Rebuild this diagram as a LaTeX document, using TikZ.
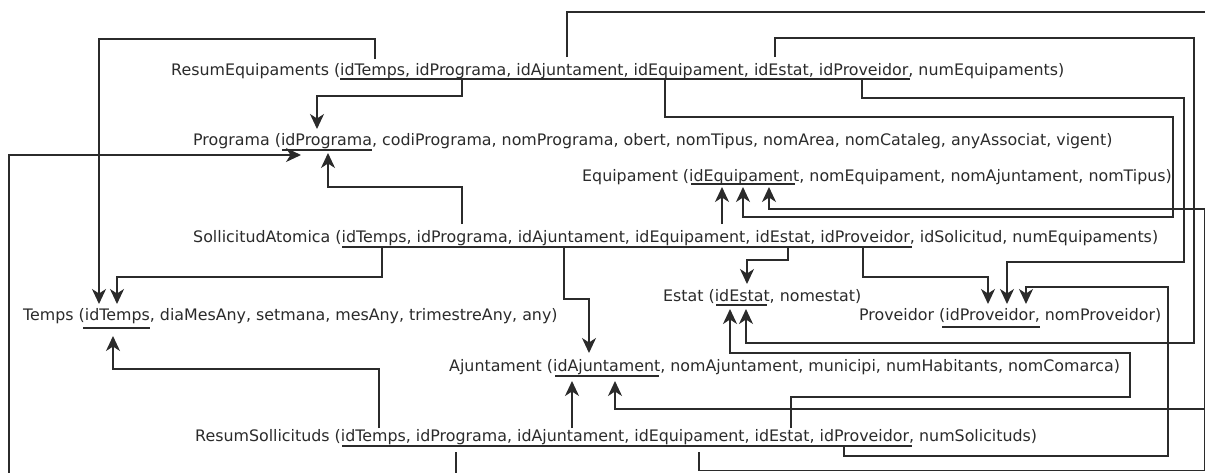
\documentclass[tikz,border=0pt]{standalone}
\usepackage{fontspec}
\setmainfont{DejaVu Sans}
\usetikzlibrary{arrows.meta}
\definecolor{ink}{HTML}{2B2B2B}
\begin{document}
\begin{tikzpicture}[x=1pt,y=-1pt,
  rel/.style={anchor=base west, inner sep=0pt, text=ink, font=\fontsize{15.85}{18}\selectfont},
  keyline/.style={draw=ink, line width=1.6pt},
  fk/.style={draw=ink, line width=1.6pt, -{Stealth[length=15pt,width=14pt,inset=4.5pt]}},
]
\useasboundingbox (0,0) rectangle (1205,472);
\clip (0,0) rectangle (1205,472);
\fill[white] (0,0) rectangle (1205,472);

% relations
\node[rel] (re) at (171,75) {ResumEquipaments (idTemps, idPrograma, idAjuntament, idEquipament, idEstat, idProveidor, numEquipaments)};
\node[rel] (pg) at (193,145) {Programa (idPrograma, codiPrograma, nomPrograma, obert, nomTipus, nomArea, nomCataleg, anyAssociat, vigent)};
\node[rel] (eq) at (582,181) {Equipament (idEquipament, nomEquipament, nomAjuntament, nomTipus)};
\node[rel] (sa) at (193,242) {SollicitudAtomica (idTemps, idPrograma, idAjuntament, idEquipament, idEstat, idProveidor, idSolicitud, numEquipaments)};
\node[rel] (te) at (23,320) {Temps (idTemps, diaMesAny, setmana, mesAny, trimestreAny, any)};
\node[rel] (es) at (663,301) {Estat (idEstat, nomestat)};
\node[rel] (pv) at (859,320) {Proveidor (idProveidor, nomProveidor)};
\node[rel] (aj) at (449,371) {Ajuntament (idAjuntament, nomAjuntament, municipi, numHabitants, nomComarca)};
\node[rel] (rs) at (195,441) {ResumSollicituds (idTemps, idPrograma, idAjuntament, idEquipament, idEstat, idProveidor, numSolicituds)};

% primary key underlines
\draw[keyline] (340,79) -- (910,79);
\draw[keyline] (282,150) -- (372,150);
\draw[keyline] (691,184) -- (795,184);
\draw[keyline] (342,247) -- (912,247);
\draw[keyline] (83,328) -- (150,328);
\draw[keyline] (716,305) -- (767,305);
\draw[keyline] (942,327) -- (1040,327);
\draw[keyline] (555,376) -- (659,376);
\draw[keyline] (342,446) -- (912,446);

% foreign key ports
\coordinate (re-temps) at (375,59);
\coordinate (re-prog)  at (462,80);
\coordinate (re-ajun)  at (567,57);
\coordinate (re-equi)  at (665,80);
\coordinate (re-esta)  at (775,57);
\coordinate (re-prov)  at (862,80);
\coordinate (sa-temps) at (382,248);
\coordinate (sa-prog)  at (462,224);
\coordinate (sa-ajun)  at (564,248);
\coordinate (sa-equi)  at (722,224);
\coordinate (sa-esta)  at (788,248);
\coordinate (sa-prov)  at (863,248);
\coordinate (rs-temps) at (379,428);
\coordinate (rs-prog)  at (456,452);
\coordinate (rs-ajun)  at (572,428);
\coordinate (rs-equi)  at (699,452);
\coordinate (rs-esta)  at (791,428);
\coordinate (rs-prov)  at (844,447);

% referenced keys
\coordinate (te-in1) at (99,304);
\coordinate (te-in2) at (117,304);
\coordinate (te-in3) at (113,336);
\coordinate (pg-in1) at (317,129);
\coordinate (pg-in2) at (328,153);
\coordinate (pg-in3) at (301,155);
\coordinate (eq-in1) at (722,187);
\coordinate (eq-in2) at (743,187);
\coordinate (eq-in3) at (769,187);
\coordinate (es-in1) at (747,284);
\coordinate (es-in2) at (730,309);
\coordinate (es-in3) at (746,309);
\coordinate (pv-in1) at (988,304);
\coordinate (pv-in2) at (1007,304);
\coordinate (pv-in3) at (1026,304);
\coordinate (aj-in1) at (589,353);
\coordinate (aj-in2) at (572,381);
\coordinate (aj-in3) at (615,381);

% ResumEquipaments references
\draw[fk] (re-temps) -- (375,39) -| (te-in1);
\draw[fk] (re-prog) -- (462,96) -| (pg-in1);
\draw[fk] (re-ajun) -- (567,12) -| (1214,409) -| (aj-in3);
\draw[fk] (re-equi) -- (665,117) -| (1173,217) -| (eq-in2);
\draw[fk] (re-esta) -- (775,38) -| (1194,343) -| (es-in3);
\draw[fk] (re-prov) -- (862,98) -| (1184,262) -| (pv-in2);

% SollicitudAtomica references
\draw[fk] (sa-temps) -- (382,277) -| (te-in2);
\draw[fk] (sa-prog) -- (462,187) -| (pg-in2);
\draw[fk] (sa-ajun) -- (564,299) -| (aj-in1);
\draw[fk] (sa-equi) -- (eq-in1);
\draw[fk] (sa-esta) -- (788,260) -| (es-in1);
\draw[fk] (sa-prov) -- (863,277) -| (pv-in1);

% ResumSollicituds references
\draw[fk] (rs-temps) -- (379,369) -| (te-in3);
\draw[fk] (rs-prog) -- (456,484) -| (9,155) -- (pg-in3);
\draw[fk] (rs-ajun) -- (aj-in2);
\draw[fk] (rs-equi) -- (699,470.5) -| (1205,209) -| (eq-in3);
\draw[fk] (rs-esta) -- (791,397) -| (1130,353) -| (es-in2);
\draw[fk] (rs-prov) -- (844,456) -| (1168,287) -| (pv-in3);
\end{tikzpicture}
\end{document}
